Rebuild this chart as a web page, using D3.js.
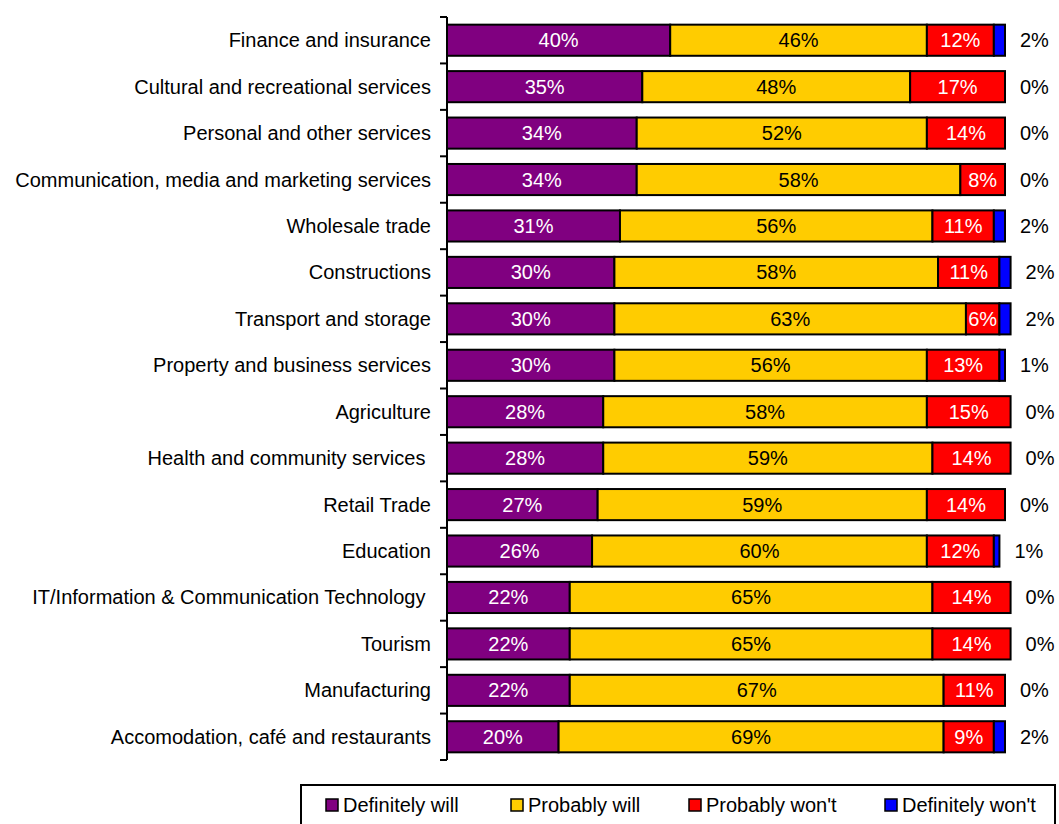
<!DOCTYPE html>
<html>
<head>
<meta charset="utf-8">
<script src="https://cdn.jsdelivr.net/npm/d3@7"></script>
<style>
  body { margin: 0; background: #fff; }
  text { font-family: "Liberation Sans", Arial, sans-serif; white-space: pre; }
</style>
</head>
<body>
<svg id="chart" width="1059" height="824"></svg>
<script>
const categories = [
  "Finance and insurance",
  "Cultural and recreational services",
  "Personal and other services",
  "Communication, media and marketing services",
  "Wholesale trade",
  "Constructions",
  "Transport and storage",
  "Property and business services",
  "Agriculture",
  "Health and community services ",
  "Retail Trade",
  "Education",
  "IT/Information & Communication Technology ",
  "Tourism",
  "Manufacturing",
  "Accomodation, café and restaurants"
];
const definitelyWill = [40, 35, 34, 34, 31, 30, 30, 30, 28, 28, 27, 26, 22, 22, 22, 20];
const probablyWill   = [46, 48, 52, 58, 56, 58, 63, 56, 58, 59, 59, 60, 65, 65, 67, 69];
const probablyWont   = [12, 17, 14, 8, 11, 11, 6, 13, 15, 14, 14, 12, 14, 14, 11, 9];
const definitelyWont = [2, 0, 0, 0, 2, 2, 2, 1, 0, 0, 0, 1, 0, 0, 0, 2];

const seriesNames = ["Definitely will", "Probably will", "Probably won't", "Definitely won't"];
const seriesColors = ["#800080", "#FFCC00", "#FF0000", "#0000FF"];
const labelColors = ["#fff", "#000", "#fff", "#000"];

const rows = categories.map((c, i) => ({
  cat: c,
  "Definitely will": definitelyWill[i],
  "Probably will": probablyWill[i],
  "Probably won't": probablyWont[i],
  "Definitely won't": definitelyWont[i]
}));

const svg = d3.select("#chart");
const plotLeft = 447, plotTop = 17, plotBottom = 760;
const fontSize = 20;

const x = d3.scaleLinear().domain([0, 100]).range([plotLeft, plotLeft + 558]);
const y = d3.scaleBand().domain(categories).range([plotTop, plotBottom]).paddingInner(0.33).paddingOuter(0.165);

const stacked = d3.stack().keys(seriesNames)(rows);

// segments
stacked.forEach((layer, si) => {
  svg.append("g").selectAll("rect")
    .data(layer)
    .join("rect")
    .attr("x", d => x(d[0]))
    .attr("y", d => y(d.data.cat))
    .attr("width", d => x(d[1]) - x(d[0]))
    .attr("height", y.bandwidth())
    .attr("fill", seriesColors[si])
    .attr("stroke", "#000")
    .attr("stroke-width", 2);
});

// value labels inside the first three segments
stacked.slice(0, 3).forEach((layer, si) => {
  svg.append("g").selectAll("text")
    .data(layer)
    .join("text")
    .attr("x", d => (x(d[0]) + x(d[1])) / 2)
    .attr("y", d => y(d.data.cat) + y.bandwidth() / 2)
    .attr("dy", "0.35em")
    .attr("text-anchor", "middle")
    .attr("font-size", fontSize)
    .attr("fill", labelColors[si])
    .text(d => (d[1] - d[0]) + "%");
});

// "Definitely won't" values outside the bar end
const lastLayer = stacked[3];
svg.append("g").selectAll("text")
  .data(lastLayer)
  .join("text")
  .attr("x", d => x(d[1]) + 15)
  .attr("y", d => y(d.data.cat) + y.bandwidth() / 2)
  .attr("dy", "0.35em")
  .attr("font-size", fontSize)
  .attr("fill", "#000")
  .text(d => (d[1] - d[0]) + "%");

// category axis with ticks between bands
const yAxisG = svg.append("g");
yAxisG.append("line")
  .attr("x1", plotLeft).attr("x2", plotLeft)
  .attr("y1", plotTop).attr("y2", plotBottom)
  .attr("stroke", "#000").attr("stroke-width", 2);
const boundaries = categories.map(c => y(c) - y.step() * y.paddingInner() / 2).concat([plotBottom]);
yAxisG.selectAll("line.tick")
  .data(boundaries)
  .join("line")
  .attr("class", "tick")
  .attr("x1", plotLeft - 7).attr("x2", plotLeft)
  .attr("y1", d => d).attr("y2", d => d)
  .attr("stroke", "#000").attr("stroke-width", 2);
yAxisG.selectAll("text")
  .data(categories)
  .join("text")
  .attr("x", 431)
  .attr("y", d => y(d) + y.bandwidth() / 2)
  .attr("dy", "0.35em")
  .attr("text-anchor", "end")
  .attr("font-size", fontSize)
  .attr("fill", "#000")
  .text(d => d);

// legend
const legend = svg.append("g");
legend.append("rect")
  .attr("x", 301).attr("y", 785)
  .attr("width", 754).attr("height", 40)
  .attr("fill", "#fff").attr("stroke", "#000").attr("stroke-width", 2);
const legendX = [326, 511, 689, 885];
seriesNames.forEach((name, i) => {
  legend.append("rect")
    .attr("x", legendX[i]).attr("y", 799)
    .attr("width", 12).attr("height", 12)
    .attr("fill", seriesColors[i])
    .attr("stroke", "#000").attr("stroke-width", 1.5);
  legend.append("text")
    .attr("x", legendX[i] + 17)
    .attr("y", 805)
    .attr("dy", "0.35em")
    .attr("font-size", fontSize)
    .attr("fill", "#000")
    .text(name);
});
</script>
</body>
</html>
